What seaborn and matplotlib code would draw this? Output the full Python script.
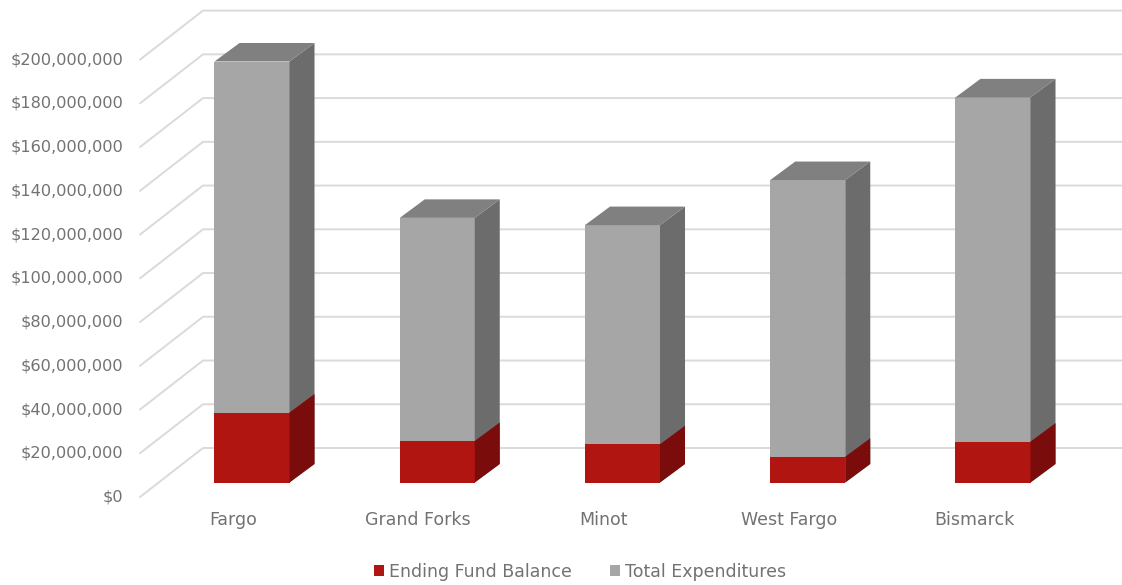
import numpy as np
import pandas as pd
import matplotlib
matplotlib.use("Agg")
import matplotlib.pyplot as plt
import seaborn as sns
from matplotlib.patches import Polygon, Patch
from matplotlib.lines import Line2D
from matplotlib.transforms import IdentityTransform

# ---------------- data ----------------
cities = ["Fargo", "Grand Forks", "Minot", "West Fargo", "Bismarck"]
ending_fund_balance = [32.0e6, 19.0e6, 17.5e6, 11.8e6, 18.7e6]
total_expenditures = [160.5e6, 102.0e6, 100.2e6, 126.5e6, 157.4e6]
series_names = ["Ending Fund Balance", "Total Expenditures"]
y_ticks = [0, 20e6, 40e6, 60e6, 80e6, 100e6, 120e6, 140e6, 160e6, 180e6, 200e6]

# ---------------- style ----------------
W, H, DPI = 1122, 585, 100
sns.set_theme(style="white")
plt.rcParams['font.family'] = ['DejaVu Sans']
TXT = "#727272"
RED, RED_SIDE = "#B11512", "#7A0D0B"
GRAY, GRAY_SIDE, GRAY_TOP = "#A6A6A6", "#6C6C6C", "#808080"
GRID = "#DADADA"

fig = plt.figure(figsize=(W / DPI, H / DPI), dpi=DPI)
fig.patch.set_facecolor("white")

px_per_dollar = 2.187e-6
base_from_top = 482.5
y_top = 215e6
ax_left_px, ax_right_px = 140, 1122
ax = fig.add_axes([ax_left_px / W, (H - base_from_top) / H,
                   (ax_right_px - ax_left_px) / W, y_top * px_per_dollar / H])
ax.set_facecolor("none")

df = pd.DataFrame({"city": cities,
                   "balance": ending_fund_balance,
                   "expend": total_expenditures})
df["stack_top"] = df["balance"] + df["expend"]

bw = 0.405
sns.barplot(data=df, x="city", y="stack_top", color=GRAY, saturation=1,
            width=bw, ax=ax, order=cities, errorbar=None, linewidth=0)
n_gray = len(ax.patches)
sns.barplot(data=df, x="city", y="balance", color=RED, saturation=1,
            width=bw, ax=ax, order=cities, errorbar=None, linewidth=0)

cat_px0, cat_step = 252.0, 185.25
ax.set_xlim((ax_left_px - cat_px0) / cat_step, (ax_right_px - cat_px0) / cat_step)
ax.set_ylim(0, y_top)
ax.set_xticks([]); ax.set_yticks([])
ax.set_xlabel(""); ax.set_ylabel("")
for s in ax.spines.values():
    s.set_visible(False)

T = ax.transData
ID = IdentityTransform()

# ---------------- walls / gridlines ----------------
front_dy, back_dy = -14.5, 34.5
front_x, back_x = 140, 203
for v in y_ticks:
    yd = T.transform((0, v))[1]
    ax.add_line(Line2D([front_x, back_x, W], [yd + front_dy, yd + back_dy, yd + back_dy],
                       transform=ID, color=GRID, lw=1.4, clip_on=False, zorder=0.2))
    ax.text(123, yd + front_dy, "${:,.0f}".format(v), transform=ID, ha="right",
            va="center", fontsize=11.6, color=TXT)

# ---------------- 3D faces ----------------
ddx, ddy = 25, 18.5
for i, p in enumerate(ax.patches):
    is_gray = i < n_gray
    x0, y0, w, h = p.get_x(), p.get_y(), p.get_width(), p.get_height()
    (lx, by), (rx, ty) = T.transform([(x0, y0), (x0 + w, y0 + h)])
    side = Polygon([(rx, by), (rx, ty), (rx + ddx, ty + ddy), (rx + ddx, by + ddy)],
                   closed=True, transform=ID, facecolor=GRAY_SIDE if is_gray else RED_SIDE,
                   edgecolor="none", zorder=p.get_zorder() + 0.1 + (0 if is_gray else 0.2))
    ax.add_patch(side)
    if is_gray:
        top = Polygon([(lx, ty), (rx, ty), (rx + ddx, ty + ddy), (lx + ddx, ty + ddy)],
                      closed=True, transform=ID, facecolor=GRAY_TOP, edgecolor="none",
                      zorder=p.get_zorder() + 0.1)
        ax.add_patch(top)
    else:
        p.set_zorder(p.get_zorder() + 0.2)

# ---------------- category labels ----------------
for i, c in enumerate(cities):
    xd = T.transform((i, 0))[0]
    ax.text(xd - 19, H - 520, c, transform=ID, ha="center", va="center",
            fontsize=12.5, color=TXT)

# ---------------- legend ----------------
handles = [Patch(facecolor=RED, edgecolor="none"), Patch(facecolor=GRAY, edgecolor="none")]
leg = fig.legend(handles, series_names, loc="center", bbox_to_anchor=(580 / W, 13 / H),
                 ncol=2, frameon=False, handlelength=0.58, handleheight=0.58,
                 handletextpad=0.3, columnspacing=2.2, fontsize=12.5)
for t in leg.get_texts():
    t.set_color(TXT)

fig.savefig("out.png", dpi=DPI, facecolor="white")
